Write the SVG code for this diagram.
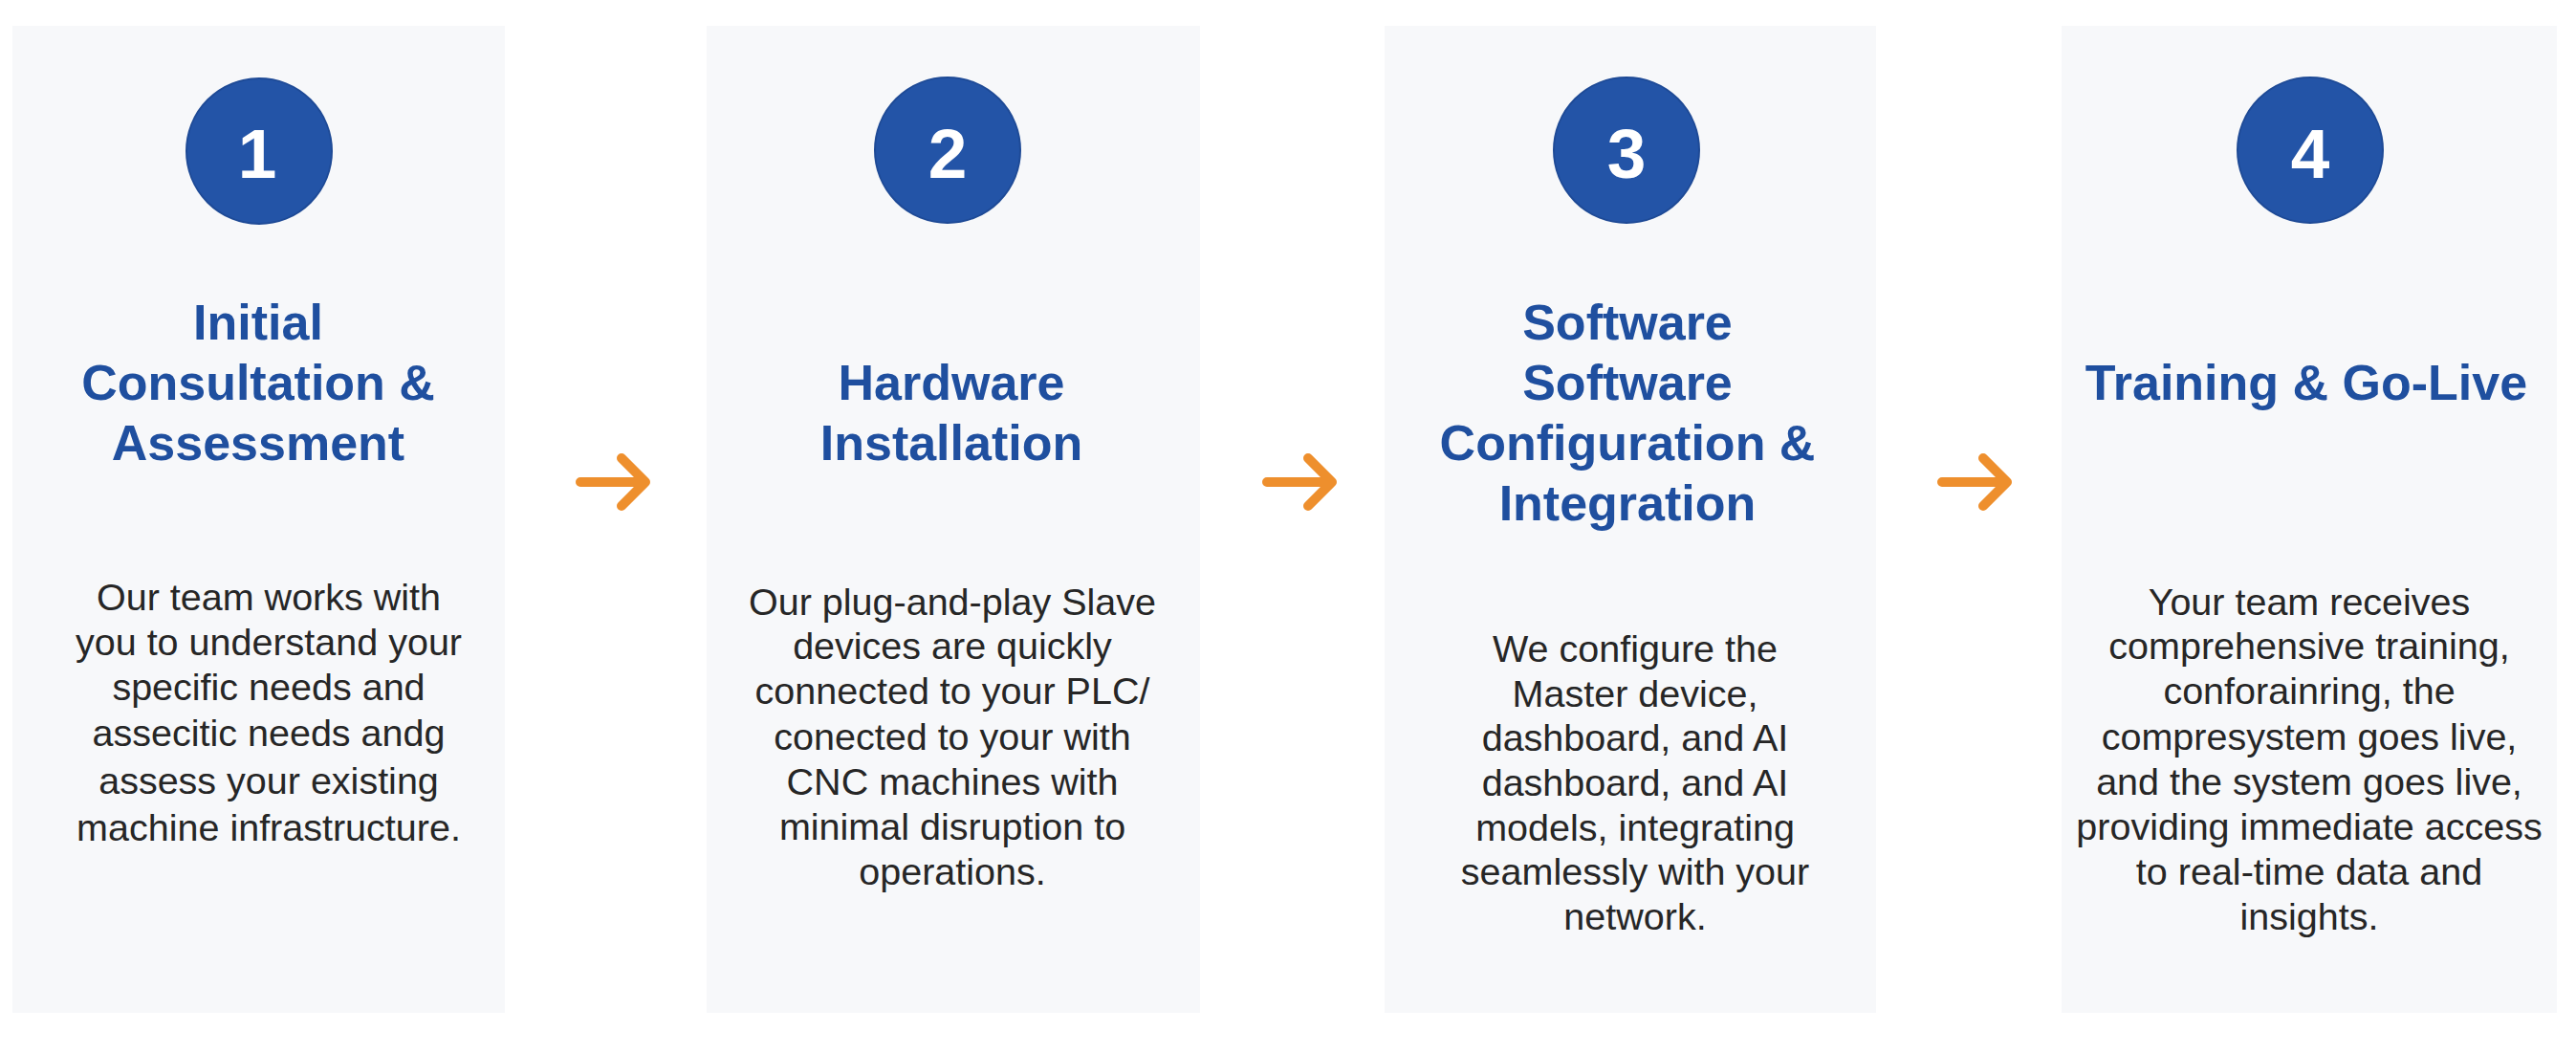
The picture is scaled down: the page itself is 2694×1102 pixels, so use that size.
<svg xmlns="http://www.w3.org/2000/svg" width="2694" height="1102" viewBox="0 0 2694 1102">
<defs>
<style>
.panel{fill:#F7F8FA;}
.badge{fill:#2354A7;stroke:#1E4A96;stroke-width:2;}
.num{font-family:"Liberation Sans",Arial,sans-serif;font-weight:bold;font-size:73px;fill:#FFFFFF;text-anchor:middle;}
.title{font-family:"Liberation Sans",Arial,sans-serif;font-weight:bold;font-size:52px;fill:#1F4F9F;text-anchor:middle;}
.body{font-family:"Liberation Sans",Arial,sans-serif;font-size:39.5px;fill:#262626;text-anchor:middle;}
.arrow{fill:none;stroke:#EE8F2D;stroke-width:10;stroke-linecap:round;stroke-linejoin:round;}
</style>
</defs>
<rect width="2694" height="1102" fill="#FFFFFF"/>
<g id="step1">
<rect class="panel" x="13" y="27" width="515" height="1032"/>
<circle class="badge" cx="271" cy="158" r="76"/>
<text class="num" x="269" y="186">1</text>
<text class="title" x="270"><tspan x="270" y="355">Initial</tspan><tspan x="270" y="418">Consultation &amp;</tspan><tspan x="270" y="481">Assessment</tspan></text>
<text class="body" x="281"><tspan x="281" y="638">Our team works with</tspan><tspan x="281" y="685">you to understand your</tspan><tspan x="281" y="732">specific needs and</tspan><tspan x="281" y="780">assecitic needs andg</tspan><tspan x="281" y="830">assess your existing</tspan><tspan x="281" y="879">machine infrastructure.</tspan></text>
</g>
<g id="step2">
<rect class="panel" x="739" y="27" width="516" height="1032"/>
<circle class="badge" cx="991" cy="157" r="76"/>
<text class="num" x="991" y="186">2</text>
<text class="title" x="995"><tspan x="995" y="418">Hardware</tspan><tspan x="995" y="481">Installation</tspan></text>
<text class="body" x="996"><tspan x="996" y="643">Our plug-and-play Slave</tspan><tspan x="996" y="689">devices are quickly</tspan><tspan x="996" y="736">connected to your PLC/</tspan><tspan x="996" y="784">conected to your with</tspan><tspan x="996" y="831">CNC machines with</tspan><tspan x="996" y="878">minimal disruption to</tspan><tspan x="996" y="925">operations.</tspan></text>
</g>
<g id="step3">
<rect class="panel" x="1448" y="27" width="514" height="1032"/>
<circle class="badge" cx="1701" cy="157" r="76"/>
<text class="num" x="1701" y="186">3</text>
<text class="title" x="1702"><tspan x="1702" y="355">Software</tspan><tspan x="1702" y="418">Software</tspan><tspan x="1702" y="481">Configuration &amp;</tspan><tspan x="1702" y="544">Integration</tspan></text>
<text class="body" x="1710"><tspan x="1710" y="692">We configure the</tspan><tspan x="1710" y="739">Master device,</tspan><tspan x="1710" y="785">dashboard, and AI</tspan><tspan x="1710" y="832">dashboard, and AI</tspan><tspan x="1710" y="879">models, integrating</tspan><tspan x="1710" y="925">seamlessly with your</tspan><tspan x="1710" y="972">network.</tspan></text>
</g>
<g id="step4">
<rect class="panel" x="2156" y="27" width="518" height="1032"/>
<circle class="badge" cx="2416" cy="157" r="76"/>
<text class="num" x="2416" y="186">4</text>
<text class="title" x="2412" y="418">Training &amp; Go-Live</text>
<text class="body" x="2415"><tspan x="2415" y="643">Your team receives</tspan><tspan x="2415" y="689">comprehensive training,</tspan><tspan x="2415" y="736">conforainring, the</tspan><tspan x="2415" y="784">compresystem goes live,</tspan><tspan x="2415" y="831">and the system goes live,</tspan><tspan x="2415" y="878">providing immediate access</tspan><tspan x="2415" y="925">to real-time data and</tspan><tspan x="2415" y="972">insights.</tspan></text>
</g>
<g id="connectors">
<path class="arrow" d="M607 504 H672 M650 479 L675 504 L650 529"/>
<path class="arrow" d="M1325 504 H1390 M1368 479 L1393 504 L1368 529"/>
<path class="arrow" d="M2031 504 H2096 M2074 479 L2099 504 L2074 529"/>
</g>
</svg>
